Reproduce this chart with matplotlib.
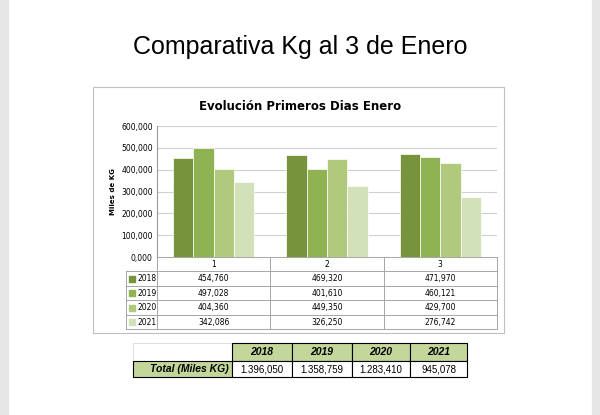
import matplotlib.pyplot as plt
from matplotlib.patches import Rectangle

days = ["1", "2", "3"]
years = ["2018", "2019", "2020", "2021"]
kg_2018 = [454760, 469320, 471970]
kg_2019 = [497028, 401610, 460121]
kg_2020 = [404360, 449350, 429700]
kg_2021 = [342086, 326250, 276742]
totals = ["1.396,050", "1.358,759", "1.283,410", "945,078"]
yticks = [0, 100000, 200000, 300000, 400000, 500000, 600000]

series = [kg_2018, kg_2019, kg_2020, kg_2021]
colors = ["#77933c", "#8fb352", "#b0c97c", "#d3e1ba"]

def fmt(v):
    return f"{v/1000:.3f}".replace(".", ",")

W, H = 600, 415
fig = plt.figure(figsize=(6, 4.15), dpi=100)

# page overlay in pixel coordinates
pg = fig.add_axes([0, 0, 1, 1])
pg.set_xlim(0, W)
pg.set_ylim(H, 0)
pg.axis("off")
pg.add_patch(Rectangle((0, 0), 8, H, color="#e6e6e6"))
pg.add_patch(Rectangle((592, 0), 8, H, color="#e6e6e6"))
pg.text(300, 47, "Comparativa Kg al 3 de Enero", ha="center", va="center", fontsize=18, family="Liberation Sans")
pg.add_patch(Rectangle((93, 87), 411, 246, fill=False, ec="#bfbfbf", lw=0.8))
pg.text(300, 106, "Evolución Primeros Dias Enero", ha="center", va="center", fontsize=8.5, fontweight="bold")

def px(x0, y0, x1, y1):
    return [x0 / W, 1 - y1 / H, (x1 - x0) / W, (y1 - y0) / H]

ax = fig.add_axes(px(157, 126, 497, 257))
n = len(series)
bw = 0.18
for i, (vals, c) in enumerate(zip(series, colors)):
    xs = [k + (i - (n - 1) / 2) * bw for k in range(len(days))]
    ax.bar(xs, vals, width=bw, color=c, edgecolor="white", linewidth=0.5, zorder=2)
ax.set_xlim(-0.5, len(days) - 0.5)
ax.set_ylim(0, 600000)
ax.set_yticks(yticks)
ax.set_yticklabels([fmt(v) for v in yticks], fontsize=5.5)
ax.set_xticks([])
ax.grid(axis="y", color="#d0d0d0", lw=0.8, zorder=0)
for s in ["top", "right", "bottom"]:
    ax.spines[s].set_visible(False)
ax.spines["left"].set_color("#999999")
ax.tick_params(axis="y", length=0, pad=3)
ax.set_ylabel("Miles de KG", fontsize=5, fontweight="bold", labelpad=4)

# data table below the chart
x0, x1 = 157, 497
colw = (x1 - x0) / len(days)
rows_y = [257, 271, 286, 300, 315, 329]
lc = "#a6a6a6"
pg.plot([x0, x1], [rows_y[0], rows_y[0]], color=lc, lw=0.7)
for y in rows_y[1:]:
    pg.plot([126, x1], [y, y], color=lc, lw=0.7)
for k in range(len(days) + 1):
    pg.plot([x0 + k * colw] * 2, [rows_y[0], rows_y[-1]], color=lc, lw=0.7)
pg.plot([126, 126], [rows_y[1], rows_y[-1]], color=lc, lw=0.7)
for k, d in enumerate(days):
    pg.text(x0 + (k + 0.5) * colw, (rows_y[0] + rows_y[1]) / 2, d, ha="center", va="center", fontsize=5.5)
for i, (yr, vals, c) in enumerate(zip(years, series, colors)):
    yc = (rows_y[i + 1] + rows_y[i + 2]) / 2
    pg.add_patch(Rectangle((129, yc - 3), 6, 6, color=c))
    pg.text(137, yc, yr, ha="left", va="center", fontsize=5.5)
    for k, v in enumerate(vals):
        pg.text(x0 + (k + 0.5) * colw, yc, f"{v:,}", ha="center", va="center", fontsize=5.5)

# totals table
hdr_fill = "#c4d79b"
cols = [232, 292, 352, 410, 467]
ty = [343, 361, 377]
pg.add_patch(Rectangle((133, ty[0]), cols[0] - 133, ty[1] - ty[0], fill=False, ec="#d9d9d9", lw=0.6))
pg.add_patch(Rectangle((133, ty[1]), cols[0] - 133, ty[2] - ty[1], fc=hdr_fill, ec="black", lw=0.8))
pg.text(cols[0] - 3, (ty[1] + ty[2]) / 2, "Total (Miles KG)", ha="right", va="center",
        fontsize=7.5, fontweight="bold", style="italic", family="Liberation Sans")
for j, (yr, t) in enumerate(zip(years, totals)):
    xa, xb = cols[j], cols[j + 1]
    pg.add_patch(Rectangle((xa, ty[0]), xb - xa, ty[1] - ty[0], fc=hdr_fill, ec="black", lw=0.8))
    pg.add_patch(Rectangle((xa, ty[1]), xb - xa, ty[2] - ty[1], fc="white", ec="black", lw=0.8))
    pg.text((xa + xb) / 2, (ty[0] + ty[1]) / 2, yr, ha="center", va="center",
            fontsize=7.5, fontweight="bold", style="italic", family="Liberation Sans")
    pg.text((xa + xb) / 2, (ty[1] + ty[2]) / 2, t, ha="center", va="center",
            fontsize=7, family="Liberation Sans")

fig.savefig("out.png", dpi=100)
